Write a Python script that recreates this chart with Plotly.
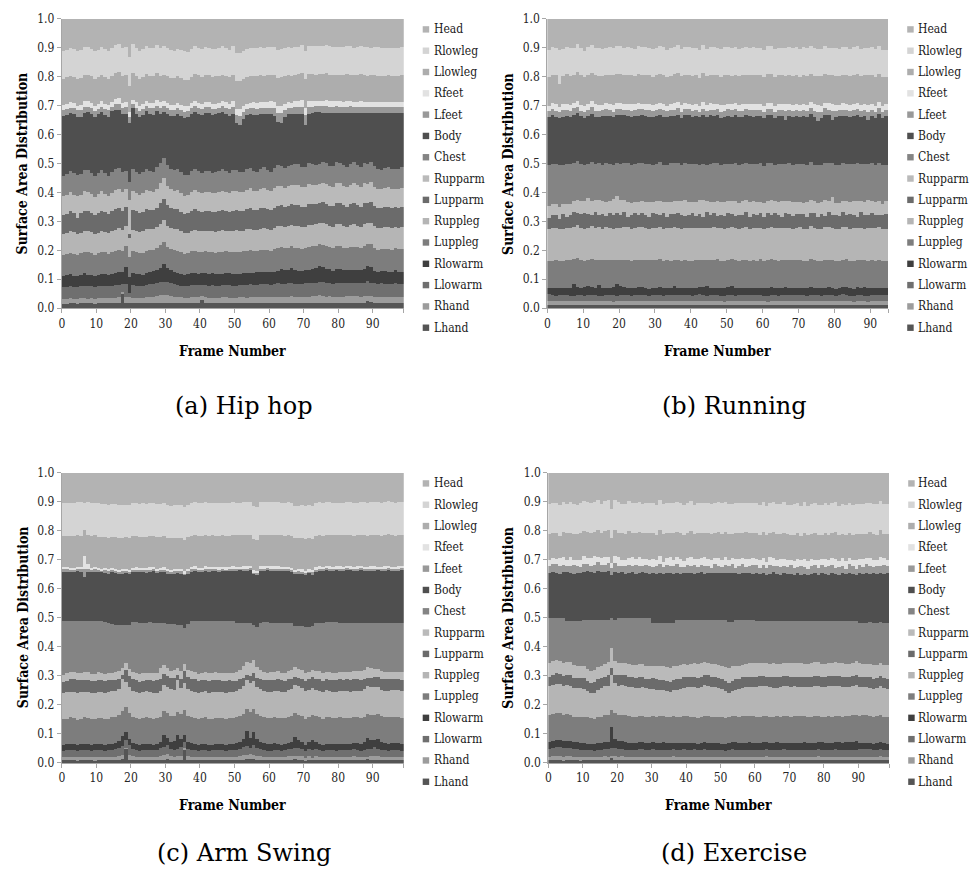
import plotly.graph_objects as go

# ---------------- data (shares in per-mille of total surface area) ----------------
PARTS = ["Lhand", "Rhand", "Llowarm", "Rlowarm", "Luppleg", "Ruppleg", "Lupparm",
         "Rupparm", "Chest", "Body", "Lfeet", "Rfeet", "Llowleg", "Rlowleg", "Head"]
LEGEND_ORDER = ["Head", "Rlowleg", "Llowleg", "Rfeet", "Lfeet", "Body", "Chest", "Rupparm",
                "Lupparm", "Ruppleg", "Luppleg", "Rlowarm", "Llowarm", "Rhand", "Lhand"]
X_TICKS = [0, 10, 20, 30, 40, 50, 60, 70, 80, 90]
Y_TICKS = [0.0, 0.1, 0.2, 0.3, 0.4, 0.5, 0.6, 0.7, 0.8, 0.9, 1.0]
CAPTIONS = ["(a) Hip hop", "(b) Running", "(c) Arm Swing", "(d) Exercise"]

HIPHOP_FRAMES = list(range(99))
RUNNING_FRAMES = list(range(95))
ARMSWING_FRAMES = list(range(99))
EXERCISE_FRAMES = list(range(99))

HIPHOP_LHAND = [16,16,17,17,16,17,18,17,17,16, 17,18,17,17,18,17,18,48,19,18, 17,18,17,18,18,19,18,19,20,19,
                19,18,18,19,18,17,18,19,19,18, 28,19,18,18,17,18,18,19,18,17, 18,19,18,17,18,18,17,18,19,18,
                17,18,18,19,18,19,18,17,18,19, 19,18,19,18,20,19,18,19,18,18, 19,18,18,19,20,19,18,19,26,21,
                19,18,18,19,18,18,19,18,18]
HIPHOP_RHAND = [17,18,18,17,18,19,18,17,18,18, 18,19,18,18,19,19,20,10,21,20, 19,18,19,19,20,21,22,24,26,27,
                26,24,22,21,20,19,19,20,19,20, 14,20,19,19,18,19,20,19,18,19, 19,20,20,19,20,21,22,21,20,20,
                21,20,22,21,23,22,24,22,21,22, 21,22,23,24,25,24,23,24,22,23, 22,23,24,23,22,23,22,23,18,22,
                22,21,22,21,22,21,22,21,22]
HIPHOP_LLOWARM = [40,41,42,40,39,41,43,42,41,40, 41,42,43,41,42,44,43,25,45,15, 44,43,42,41,43,44,45,43,44,46,
                  45,44,43,42,41,40,41,42,43,42, 40,42,41,43,42,41,42,43,44,43, 42,41,43,44,45,43,42,44,45,46,
                  44,45,46,44,43,45,47,46,45,44, 46,47,45,44,46,48,47,46,45,47, 48,46,45,47,46,45,46,47,50,46,
                  45,44,46,45,44,45,46,45,44]
HIPHOP_RLOWARM = [38,40,41,39,38,40,42,41,39,38, 39,41,42,40,41,43,44,42,58,55, 42,41,40,39,41,42,43,45,50,62,
                  48,45,43,41,40,39,40,41,42,40, 39,41,40,42,41,40,39,41,42,41, 40,39,41,42,40,41,43,42,40,41,
                  42,44,43,52,48,45,50,47,44,43, 45,47,50,54,56,52,48,46,45,47, 48,46,45,44,46,47,45,48,52,55,
                  44,43,42,44,43,42,44,43,42]
HIPHOP_LUPPLEG = [74,73,75,76,74,73,75,77,76,74, 75,76,74,73,75,76,78,74,72,70, 76,75,74,76,77,75,74,76,78,75,
                  74,75,76,77,75,74,73,75,76,75, 74,75,76,74,75,76,77,75,74,76, 77,76,75,77,78,76,75,77,78,76,
                  75,77,78,76,75,77,76,78,79,77, 76,78,77,76,75,77,78,76,77,79, 78,77,76,78,79,77,76,78,75,77,
                  78,77,76,77,78,77,76,77,78]
HIPHOP_RUPPLEG = [72,71,73,74,72,70,72,74,73,71, 72,73,71,70,72,73,74,71,69,65, 73,72,71,73,74,72,71,73,75,78,
                  74,72,73,74,72,71,70,72,73,72, 71,72,73,71,72,73,74,72,71,73, 74,73,72,74,75,73,72,74,75,73,
                  72,74,76,74,73,75,74,76,77,75, 74,76,75,74,73,75,76,74,75,77, 76,75,74,76,77,75,74,76,73,75,
                  76,75,74,75,76,75,74,75,76]
HIPHOP_LUPPARM = [66,68,70,67,55,68,70,69,67,66, 68,69,67,66,68,70,69,68,67,15, 70,68,66,68,69,67,66,68,70,72,
                  70,68,67,69,68,66,67,68,70,69, 67,68,69,67,68,69,70,68,67,69, 70,69,68,70,71,69,68,70,71,69,
                  68,70,72,70,69,71,70,72,73,71, 70,72,71,70,69,71,72,70,71,73, 72,71,70,72,73,71,70,72,69,71,
                  70,69,68,69,70,69,68,69,70]
HIPHOP_RUPPARM = [64,66,65,63,76,65,67,66,64,63, 65,66,64,63,65,67,66,64,63,118, 66,65,63,65,66,64,63,66,70,72,
                  68,66,64,65,64,63,64,65,67,66, 64,65,66,64,65,66,67,65,64,66, 67,66,65,67,68,66,65,67,68,66,
                  65,67,69,67,66,68,67,69,70,68, 67,69,68,67,66,68,69,67,68,70, 69,68,67,69,70,68,67,69,66,68,
                  67,66,65,66,67,66,65,66,67]
HIPHOP_CHEST = [72,71,73,74,72,70,72,74,73,71, 72,73,71,70,72,73,74,71,62,60, 73,72,71,73,74,72,71,73,70,68,
                72,71,73,74,72,71,70,72,73,72, 71,72,73,71,72,73,74,72,71,73, 70,69,68,70,71,69,68,70,71,69,
                68,70,72,70,69,71,70,72,73,71, 70,72,71,70,69,71,72,70,71,73, 72,71,70,72,73,71,70,72,69,71,
                70,69,68,69,70,69,68,69,70]
HIPHOP_BODY = [205,203,200,204,202,200,199,201,203,205, 203,200,202,204,210,203,200,198,195,205,
               212,200,198,196,199,197,196,194,170,160, 176,182,186,190,194,198,200,199,197,197,
               200,201,199,200,201,199,197,198,196,194, 163,163,185,188,184,193,196,187,184,194,
               198,180,149,147,176,177,174,173,170,180, 147,172,176,180,178,170,173,183,184,168,
               171,180,186,175,169,179,187,171,177,169, 184,193,196,190,187,193,193,192,188]
HIPHOP_LFEET = [20,21,19,20,22,21,20,19,21,20, 19,20,21,22,14,20,21,22,24,20, 15,22,21,20,19,21,22,20,21,22,
                21,20,19,20,21,22,20,19,20,21, 20,21,22,20,19,20,21,22,23,24, 28,30,24,22,21,23,22,24,23,22,
                24,26,30,35,26,23,22,24,25,26, 32,24,22,21,22,23,24,22,21,23, 22,21,22,23,22,21,22,21,22,21,
                20,21,20,21,20,21,20,21,20]
HIPHOP_RFEET = [18,17,19,18,17,18,19,18,17,18, 19,18,17,18,16,18,19,17,18,19, 14,18,19,20,18,17,18,19,18,17,
                18,19,18,17,18,19,18,17,18,19, 18,17,18,19,18,17,18,19,18,20, 22,24,20,18,19,20,21,19,18,20,
                21,22,24,26,22,20,19,21,22,23, 26,20,19,18,19,20,19,18,19,18, 19,18,19,18,17,18,19,18,17,18,
                18,17,18,17,18,17,18,17,18]
HIPHOP_LLOWLEG = [92,93,91,90,92,93,91,92,93,91, 90,92,93,91,92,90,91,93,92,90, 94,92,91,90,92,93,94,92,91,90,
                  91,92,93,94,92,91,90,92,93,94, 93,92,91,93,94,92,91,90,92,93, 96,98,94,93,92,91,93,94,92,91,
                  93,92,96,98,94,93,92,91,92,93, 98,94,93,92,91,92,93,92,91,90, 91,92,93,92,91,92,93,91,90,91,
                  92,91,90,91,92,91,90,91,92]
HIPHOP_RLOWLEG = [95,96,97,96,95,97,98,96,95,97, 96,95,97,98,96,97,95,96,97,98, 97,96,98,97,95,96,97,98,96,97,
                  98,97,96,95,97,98,96,97,95,96, 97,98,96,97,95,96,97,98,96,97, 98,97,96,97,98,96,97,95,96,97,
                  96,97,98,96,97,98,97,96,95,97, 98,97,96,97,98,96,97,98,97,96, 97,96,97,98,96,97,96,97,98,96,
                  97,98,96,97,96,97,98,96,97]

RUNNING_LHAND = [12,12,13,12,11,12,13,12,12,11, 12,13,12,11,12,12,13,12,11,12, 13,12,12,11,12,13,12,12,11,12,
                 12,13,12,12,11,12,13,12,12,11, 12,12,13,12,11,12,12,13,12,11, 12,13,12,12,11,12,13,12,11,12,
                 12,11,12,13,12,12,11,12,13,12, 11,12,12,13,12,11,12,13,12,12, 11,12,13,12,12,11,12,13,12,11,
                 12,12,13,12,11]
RUNNING_RHAND = [14,13,12,13,14,13,12,13,14,13, 12,13,14,13,12,13,14,13,12,14, 13,12,13,14,13,12,13,14,13,12,
                 13,14,13,12,13,14,13,12,13,14, 13,12,13,14,13,12,13,14,13,12, 13,14,13,12,13,14,13,12,13,14,
                 13,12,13,14,13,12,13,14,13,12, 13,14,13,12,13,14,13,12,13,14, 13,12,13,14,13,12,13,14,13,12,
                 13,14,13,12,13]
RUNNING_LLOWARM = [22,20,19,21,22,20,18,19,21,22, 20,19,21,22,20,18,19,21,22,16, 20,22,21,19,20,22,21,19,20,21,
                   22,20,19,21,22,20,19,21,22,20, 19,21,22,20,19,21,22,20,19,21, 22,20,19,21,22,20,19,21,22,20,
                   19,21,22,20,19,21,22,20,19,21, 22,20,19,21,22,20,19,21,22,20, 19,21,22,20,19,21,22,20,19,21,
                   22,20,19,21,22]
RUNNING_RLOWARM = [24,25,26,24,23,25,27,40,28,25, 30,34,26,25,38,27,24,26,30,42, 32,28,26,25,24,26,27,25,24,26,
                   25,27,26,24,25,32,26,25,24,26, 25,24,26,27,33,26,25,24,26,25, 27,32,26,25,24,26,27,25,24,26,
                   25,27,26,24,25,26,27,25,24,26, 25,24,26,27,25,24,26,25,27,26, 24,25,26,27,25,24,26,25,30,27,
                   25,24,26,25,24]
RUNNING_LUPPLEG = [93,95,97,94,92,96,98,85,99,96, 90,88,97,95,85,96,98,94,92,82, 90,94,96,95,97,94,93,96,98,95,
                   94,96,95,97,93,90,96,95,97,94, 95,97,94,93,90,95,96,98,94,95, 93,90,96,95,97,94,93,96,95,97,
                   94,95,97,96,94,95,93,96,97,95, 96,94,95,97,96,93,95,96,94,95, 97,95,94,96,95,97,94,95,92,94,
                   96,95,97,94,95]
RUNNING_RUPPLEG = [111,113,110,112,114,111,109,112,113,111, 110,112,114,111,113,110,112,111,109,113,
                   111,113,112,110,111,113,114,112,110,111, 113,112,110,111,113,114,112,111,110,112,
                   114,111,110,112,113,111,112,110,113,111, 112,111,113,110,112,114,111,113,112,110,
                   111,113,112,110,114,111,113,112,110,111, 113,112,111,113,110,112,111,113,114,111,
                   112,110,113,111,112,114,111,112,110,113, 111,112,113,111,110]
RUNNING_LUPPARM = [37,43,47,33,50,39,45,53,41,48, 55,47,40,57,43,51,39,53,45,49, 43,51,37,47,53,41,49,45,39,51,
                   47,41,53,39,49,43,51,45,41,47, 51,43,47,39,53,45,49,41,47,43, 51,45,39,49,43,53,41,47,45,51,
                   43,49,41,53,45,39,51,47,43,49, 45,51,41,47,53,43,49,39,51,45, 47,43,51,41,49,45,39,53,47,43,
                   49,45,41,47,51]
RUNNING_RUPPARM = [40,38,35,42,36,45,40,38,48,44, 42,55,46,40,52,44,48,40,58,62, 52,42,50,44,38,48,42,46,52,40,
                   44,48,38,52,42,46,40,50,54,42, 38,46,50,56,40,44,38,52,44,48, 40,46,52,40,48,42,50,44,46,38,
                   48,42,52,40,44,56,42,46,50,40, 44,38,52,46,40,48,42,54,38,62, 40,46,38,50,44,48,54,40,46,52,
                   42,46,50,38,44]
RUNNING_CHEST = [142,140,139,146,135,137,136,130,132,129, 124,119,135,124,126,126,134,128,118,112,
                 126,128,134,130,130,132,130,130,133,127, 128,134,131,127,133,130,132,124,128,133,
                 131,134,122,127,125,133,135,129,128,132, 129,128,133,131,128,127,132,129,131,134,
                 128,131,129,126,133,128,127,130,126,133, 130,134,127,129,126,131,128,130,133,116,
                 132,133,131,128,129,127,130,126,129,127, 131,128,132,134,127]
RUNNING_BODY = [166,168,164,162,165,167,163,166,168,165, 163,166,168,164,162,167,165,168,163,166,
                168,165,163,167,166,164,168,166,163,165, 167,164,166,168,163,165,167,164,166,168,
                164,166,163,167,165,168,164,166,162,165, 167,164,166,168,163,165,167,164,166,163,
                165,167,164,162,166,165,152,164,167,165, 163,166,164,167,165,150,164,166,163,150,
                165,167,164,166,163,165,167,164,166,152, 165,163,166,164,167]
RUNNING_LFEET = [20,22,21,19,22,20,21,23,20,19, 21,20,22,21,19,20,22,21,20,22, 21,19,22,20,21,23,20,19,21,22,
                 20,21,22,19,20,21,23,20,22,21, 19,21,20,22,21,20,19,22,21,20, 22,21,19,20,22,21,20,23,21,20,
                 21,22,20,19,21,22,30,21,20,22, 21,20,22,21,20,32,21,22,20,30, 21,20,22,21,20,22,21,20,22,28,
                 21,20,22,21,20]
RUNNING_RFEET = [18,20,22,19,21,23,20,18,22,21, 19,22,20,23,21,19,22,20,24,21, 22,19,21,24,20,22,19,23,21,20,
                 22,20,23,19,21,22,20,24,21,19, 22,21,19,23,20,22,21,19,23,21, 20,22,21,19,23,20,22,21,19,22,
                 21,19,22,23,20,21,24,20,22,21, 19,22,21,20,23,24,21,19,22,25, 21,20,22,19,23,21,20,22,21,24,
                 20,22,21,19,22]
RUNNING_LLOWLEG = [100,98,101,78,99,101,100,98,99,101, 100,99,97,100,101,99,98,100,102,99,
                   98,100,101,99,98,100,99,101,100,98, 99,101,100,98,99,100,102,99,98,100,
                   101,99,98,100,101,99,100,98,99,101, 100,98,99,101,100,99,98,100,101,99,
                   98,100,101,99,100,98,99,101,100,98, 99,101,100,98,99,100,101,99,98,100,
                   101,99,98,100,99,101,100,98,99,101, 100,99,98,101,95]
RUNNING_RLOWLEG = [94,96,95,117,93,95,97,94,96,95, 93,95,97,94,96,95,93,96,94,95, 97,94,95,96,93,95,97,94,96,95,
                   94,96,95,93,97,94,95,96,94,95, 96,94,95,97,93,95,96,94,95,97, 94,95,96,93,95,97,94,96,95,94,
                   95,97,94,96,95,93,96,94,95,97, 94,95,96,94,97,95,93,96,94,95, 96,94,95,97,94,95,96,93,95,94,
                   95,96,94,95,92]

ARMSWING_LHAND = [10,10,11,10,9,10,11,10,10,9, 10,11,10,10,11,10,12,14,50,12, 11,10,10,11,10,10,11,10,12,13,
                  14,12,11,12,13,48,12,11,10,10, 11,10,10,11,10,11,10,10,11,10, 11,12,13,14,15,14,13,12,11,10,
                  10,11,10,11,10,11,12,18,13,12, 11,12,14,12,11,10,11,10,11,10, 10,11,10,11,12,11,10,11,16,12,
                  12,11,10,11,10,11,10,11,10]
ARMSWING_RHAND = [12,12,11,12,13,12,11,12,12,13, 12,11,12,13,12,12,14,16,4,16, 13,12,12,11,12,13,12,12,14,16,
                  18,14,12,13,14,6,13,12,12,11, 12,12,11,12,13,12,12,11,12,12, 12,13,15,16,18,16,14,13,12,12,
                  11,12,12,11,12,13,14,6,14,13, 6,12,6,13,12,11,12,12,11,12, 12,11,12,12,13,12,11,12,6,13,
                  14,13,12,11,12,12,11,12,12]
ARMSWING_LLOWARM = [22,23,24,23,22,23,24,23,22,23, 24,23,22,23,24,26,28,30,25,34, 24,23,22,23,24,23,22,24,26,28,
                    30,25,24,26,28,20,25,24,23,22, 23,24,23,22,23,24,23,22,23,24, 24,26,28,30,20,32,26,24,23,22,
                    23,24,23,22,23,24,25,30,26,24, 25,24,26,24,23,22,23,24,23,22, 23,24,23,22,24,23,22,24,28,26,
                    30,26,24,23,22,23,24,23,22]
ARMSWING_RLOWARM = [19,20,21,20,19,20,21,20,19,20, 21,20,19,20,21,22,24,34,30,22, 21,20,19,20,21,20,19,21,22,40,
                    26,24,30,45,28,22,24,22,21,20, 20,21,20,19,20,21,20,19,20,21, 22,24,28,50,36,45,30,26,24,22,
                    21,22,21,20,21,22,24,38,28,24, 22,24,36,23,22,21,22,21,22,21, 22,21,22,21,22,23,24,26,36,28,
                    26,34,28,25,24,23,24,23,22]
ARMSWING_LUPPLEG = [90,89,91,90,88,89,91,92,90,89, 90,91,89,88,90,89,88,86,84,88, 90,91,89,90,91,89,90,88,86,82,
                    86,88,86,80,88,89,90,91,90,89, 90,91,89,90,91,89,90,91,89,90, 89,88,86,78,88,80,86,88,89,90,
                    91,89,90,91,89,90,88,82,87,89, 90,89,85,90,91,89,90,91,89,90, 91,89,90,89,88,89,90,88,84,87,
                    86,85,88,89,90,89,90,91,90]
ARMSWING_RUPPLEG = [90,91,89,90,92,91,89,90,91,90, 89,90,91,92,90,91,89,110,88,90, 91,90,89,90,91,92,90,89,90,91,
                    90,92,91,112,90,91,92,90,91,90, 89,90,91,92,90,89,90,91,92,90, 91,92,95,98,100,96,94,92,91,90,
                    91,90,92,91,90,92,93,95,100,98, 96,92,91,90,91,92,93,92,91,90, 91,92,93,92,91,92,93,94,95,96,
                    94,93,92,91,92,93,92,91,92]
ARMSWING_LUPPARM = [38,40,42,44,43,41,40,39,40,41, 42,40,39,41,40,38,36,15,40,38, 40,41,40,39,38,40,41,42,40,38,
                    36,38,40,15,30,42,40,41,42,40, 41,40,39,40,41,40,39,41,40,38, 36,34,30,20,25,28,32,36,38,40,
                    41,40,42,41,40,39,36,30,25,30, 34,36,38,40,41,40,39,38,40,41, 40,39,40,41,40,39,38,36,30,32,
                    34,36,38,39,40,39,38,39,40]
ARMSWING_RUPPARM = [24,26,27,25,24,26,28,27,25,24, 25,26,27,25,24,26,28,24,26,25, 24,25,26,27,25,24,26,25,38,30,
                    28,26,27,24,26,25,24,28,27,26, 25,26,27,26,25,24,26,27,25,26, 28,34,40,42,45,44,38,32,28,26,
                    25,26,27,25,26,28,30,34,32,30, 28,27,26,25,26,27,26,25,24,26, 27,26,25,26,27,28,30,32,36,34,
                    30,28,27,26,25,26,27,26,25]
ARMSWING_CHEST = [184,179,175,176,180,178,176,177,181,181, 177,177,178,172,168,164,158,148,130,152,
                  172,174,178,174,173,175,174,174,157,147, 152,160,158,150,160,122,160,171,175,182,
                  178,176,180,178,177,180,180,178,178,179, 172,162,150,137,138,120,137,160,170,174,
                  172,170,168,172,172,165,160,140,147,152, 158,154,150,165,168,173,170,173,175,174,
                  169,172,170,171,168,168,167,162,154,157, 159,159,166,170,170,169,169,169,172]
ARMSWING_BODY = [173,172,171,172,172,172,150,172,172,172, 170,171,172,171,178,180,178,178,180,178,
                 175,174,175,176,174,175,176,174,175,176, 175,176,176,178,178,185,175,172,173,172,
                 173,174,172,174,173,172,174,173,172,174, 179,181,180,179,181,178,180,181,179,180,
                 180,181,180,181,180,179,180,182,183,183, 180,185,180,180,180,179,180,179,178,180,
                 180,179,181,180,179,180,181,180,178,180, 180,181,179,180,181,180,179,180,181]
ARMSWING_LFEET = [6,6,5,6,7,6,30,6,5,6, 6,5,6,6,7,6,5,6,6,5, 6,7,6,5,6,6,7,6,5,6, 6,5,6,7,6,5,6,6,7,6,
                  5,6,6,7,6,5,6,6,7,6, 6,5,6,7,6,6,5,6,6,7, 6,5,6,6,7,6,5,6,6,5, 6,7,6,5,6,6,7,6,5,6,
                  6,5,6,7,6,5,6,6,7,6, 6,5,6,6,7,6,5,6,6]
ARMSWING_RFEET = [7,8,7,6,7,8,42,18,7,8, 7,6,7,8,7,6,7,8,7,6, 7,8,7,6,7,8,7,6,7,8, 7,6,7,8,7,6,7,8,7,6,
                  7,8,7,6,7,8,7,6,7,8, 7,6,7,8,7,6,7,8,7,6, 7,8,7,6,7,8,7,6,7,8, 7,6,7,8,7,6,7,8,7,6,
                  7,8,7,6,7,8,7,6,7,8, 7,6,7,8,7,6,7,8,7]
ARMSWING_LLOWLEG = [107,108,109,110,109,108,91,100,108,109, 108,107,109,108,107,109,108,107,108,109,
                    108,107,106,107,108,109,108,107,106,107, 108,109,108,107,108,109,110,107,108,109,
                    108,107,108,109,108,107,108,109,108,107, 108,109,108,107,108,109,108,107,108,109,
                    108,107,109,108,107,108,109,108,107,108, 109,108,107,108,109,108,107,108,109,108,
                    107,108,109,108,107,108,109,108,107,108, 109,108,107,108,109,108,107,108,109]
ARMSWING_RLOWLEG = [115,114,113,112,114,115,91,113,114,113, 114,115,113,114,115,113,114,115,113,114,
                    113,114,115,116,114,113,114,115,116,114, 113,112,113,114,115,113,112,114,113,112,
                    113,114,113,112,113,114,113,112,113,114, 113,112,113,114,113,112,113,114,113,112,
                    113,114,113,112,113,114,113,112,113,114, 113,114,115,114,113,112,113,114,113,112,
                    113,112,113,114,113,112,113,114,113,112, 113,114,113,112,113,114,113,112,113]

EXERCISE_LHAND = [10,10,11,10,9,10,11,10,10,9, 10,11,10,10,11,10,11,10,18,11, 10,11,10,10,11,10,10,11,10,10,
                  11,10,10,11,10,10,11,10,10,11, 10,10,11,10,10,11,10,10,11,10, 10,11,10,10,11,10,10,11,10,10,
                  11,10,10,11,10,10,11,10,10,11, 10,10,11,10,10,11,10,10,11,10, 10,11,10,10,11,10,10,11,10,10,
                  11,10,10,11,10,10,11,10,10]
EXERCISE_RHAND = [13,14,15,14,13,14,13,12,13,12, 12,11,12,11,12,12,13,12,8,13, 12,13,12,11,12,12,13,12,11,12,
                  12,13,12,11,12,12,13,12,11,12, 12,13,12,11,12,12,13,12,11,12, 12,11,12,13,12,11,12,12,13,12,
                  11,12,12,13,12,11,12,12,13,12, 11,12,12,13,12,11,12,12,13,12, 11,12,12,13,12,11,12,12,13,12,
                  11,12,13,12,11,12,13,12,11]
EXERCISE_LLOWARM = [28,29,30,31,30,29,28,27,27,26, 25,24,23,23,24,25,26,27,28,28, 27,26,25,25,24,24,25,25,24,24,
                    25,24,24,25,24,24,25,24,24,25, 24,24,25,24,24,25,24,24,25,24, 23,22,24,25,24,24,25,24,24,25,
                    24,24,25,24,24,25,24,24,25,24, 24,25,24,24,25,24,24,25,24,24, 25,24,24,25,24,24,25,24,24,25,
                    26,27,26,25,24,24,25,24,24]
EXERCISE_RLOWARM = [24,25,26,27,26,25,24,23,22,23, 22,21,20,21,22,23,24,26,70,32, 28,27,26,25,24,23,24,25,24,23,
                    24,23,24,25,24,23,22,23,24,23, 24,23,22,23,24,25,24,23,24,23, 22,21,24,26,25,24,23,24,25,24,
                    23,24,25,24,23,24,25,24,23,24, 25,24,23,24,25,24,23,24,25,26, 25,24,23,24,25,26,27,26,28,30,
                    22,21,22,23,22,23,24,23,22]
EXERCISE_LUPPLEG = [90,91,92,91,90,91,89,88,89,90, 92,91,90,89,90,91,92,93,60,88, 90,91,92,91,90,89,90,91,92,91,
                    90,91,92,91,90,91,92,91,90,91, 92,91,90,89,90,91,92,91,90,91, 92,91,89,88,90,91,92,91,90,91,
                    92,91,90,91,92,91,90,91,92,91, 90,91,92,91,90,91,92,91,90,89, 90,91,92,91,90,89,88,89,90,91,
                    94,95,94,93,92,93,92,91,92]
EXERCISE_RUPPLEG = [100,101,100,99,100,101,102,100,99,98, 96,92,88,90,94,97,99,100,120,104,
                    101,102,103,102,101,100,99,98,97,96, 95,93,92,90,88,86,90,94,97,99,
                    100,101,102,103,104,105,104,103,102,100, 96,92,84,86,92,96,99,100,101,102,
                    103,104,103,102,101,100,99,101,102,103, 104,103,102,101,100,101,102,103,104,103,
                    102,103,104,105,104,103,102,101,100,101, 100,99,98,97,98,99,100,99,98]
EXERCISE_LUPPARM = [34,35,36,35,34,35,36,35,34,35, 36,35,34,35,36,35,34,36,25,30, 35,34,36,35,34,35,36,35,34,35,
                    36,35,34,35,36,35,34,35,36,35, 34,35,36,35,34,35,36,35,34,35, 36,35,34,36,35,34,35,36,35,34,
                    35,36,35,34,35,36,35,34,35,36, 35,34,35,36,35,34,35,36,35,34, 35,36,35,34,35,36,35,34,35,36,
                    35,34,35,36,35,34,35,36,35]
EXERCISE_RUPPARM = [48,47,46,45,44,45,46,44,43,42, 42,41,40,41,42,43,44,45,70,48, 44,43,42,43,44,45,46,45,44,43,
                    44,45,46,47,48,49,48,47,46,45, 44,45,46,47,46,45,44,43,44,45, 46,48,52,50,46,45,44,45,46,47,
                    46,45,44,45,46,47,46,45,44,45, 46,47,46,45,44,45,46,47,46,45, 44,45,46,47,46,45,44,45,46,47,
                    46,45,44,45,46,45,44,45,46]
EXERCISE_CHEST = [153,148,144,148,154,140,141,151,153,155, 160,169,178,175,164,159,152,146,100,141,
                  153,153,154,158,160,162,157,158,164,166, 148,151,151,150,153,155,150,159,157,154,
                  155,153,151,153,151,146,148,154,154,155, 158,162,158,152,158,160,155,152,151,150,
                  147,146,148,148,149,148,150,151,148,146, 145,144,145,146,149,149,146,142,142,147,
                  148,144,144,141,143,146,147,148,144,138, 140,142,143,144,147,145,142,145,147]
EXERCISE_BODY = [157,160,155,153,158,168,165,162,166,164, 163,166,165,162,167,165,163,166,150,164,
                 155,158,153,156,159,152,157,158,155,153, 170,168,172,166,170,172,168,160,158,162,
                 160,162,158,160,163,157,161,159,162,160, 160,163,167,170,161,158,162,159,161,157,
                 165,160,162,158,161,166,160,157,163,161, 162,158,165,160,163,158,161,166,160,164,
                 163,160,166,162,158,164,161,167,162,158, 170,168,172,166,170,167,171,168,170]
EXERCISE_LFEET = [22,25,30,28,24,20,26,30,25,22, 28,24,20,26,30,22,26,28,24,30, 24,20,28,26,22,30,24,20,28,25,
                  22,26,30,24,28,22,26,30,24,20, 28,24,30,22,26,28,24,20,30,26, 22,28,24,30,20,26,28,22,24,30,
                  26,22,28,24,30,20,26,28,24,22, 30,26,22,28,24,20,30,26,22,28, 24,30,26,22,28,24,20,30,26,22,
                  28,24,30,26,22,28,24,30,26]
EXERCISE_RFEET = [20,22,18,25,28,22,30,18,20,24, 28,22,26,30,20,24,28,22,18,26, 30,24,20,26,28,22,30,26,20,24,
                  28,22,26,20,24,30,22,26,28,20, 24,28,20,26,22,30,24,28,20,26, 22,28,24,20,30,26,22,28,24,26,
                  22,28,24,20,26,30,22,28,24,26, 20,24,28,22,26,30,24,20,28,22, 26,20,24,30,22,28,26,20,24,30,
                  22,26,20,28,24,22,30,24,20]
EXERCISE_LLOWLEG = [92,88,90,78,86,92,84,90,88,92, 85,90,88,84,90,86,88,92,84,88, 86,90,88,92,84,90,86,88,90,92,
                    88,86,90,96,88,84,92,86,88,90, 88,90,86,92,88,84,90,88,86,90, 92,86,88,84,90,88,86,92,88,86,
                    88,86,90,92,84,88,90,86,92,88, 86,90,88,84,92,88,86,90,88,84, 90,88,86,92,88,84,90,88,86,90,
                    86,88,84,90,88,86,92,84,88]
EXERCISE_RLOWLEG = [103,102,104,105,103,102,104,103,102,104, 103,104,102,103,104,102,103,104,102,103,
                    104,102,103,104,102,103,104,102,103,104, 102,103,104,102,103,104,102,103,104,102,
                    103,104,102,103,104,102,103,104,102,103, 104,102,103,104,102,103,104,102,103,104,
                    102,103,104,102,103,104,102,103,104,102, 103,104,102,103,104,102,103,104,102,103,
                    104,102,103,104,102,103,104,102,103,104, 102,103,104,102,103,104,102,103,104]


def with_head(frames, lower):
    """Shares add up to one per frame; the head takes the remaining share."""
    for name, vals in lower.items():
        assert len(vals) == len(frames), (name, len(vals), len(frames))
    head = [1000 - sum(col) for col in zip(*lower.values())]
    out = dict(lower)
    out["Head"] = head
    return out


def panel(frames, p):
    return frames, with_head(frames, {
        "Lhand": p["LHAND"], "Rhand": p["RHAND"], "Llowarm": p["LLOWARM"], "Rlowarm": p["RLOWARM"],
        "Luppleg": p["LUPPLEG"], "Ruppleg": p["RUPPLEG"], "Lupparm": p["LUPPARM"], "Rupparm": p["RUPPARM"],
        "Chest": p["CHEST"], "Body": p["BODY"], "Lfeet": p["LFEET"], "Rfeet": p["RFEET"],
        "Llowleg": p["LLOWLEG"], "Rlowleg": p["RLOWLEG"]})


def grab(prefix):
    g = globals()
    return {k[len(prefix) + 1:]: v for k, v in g.items() if k.startswith(prefix + "_") and k != prefix + "_FRAMES"}


PANEL_DATA = [panel(HIPHOP_FRAMES, grab("HIPHOP")), panel(RUNNING_FRAMES, grab("RUNNING")),
              panel(ARMSWING_FRAMES, grab("ARMSWING")), panel(EXERCISE_FRAMES, grab("EXERCISE"))]

# ---------------- styles ----------------
COLORS = {"Head": "#b3b3b3", "Rlowleg": "#d4d4d4", "Llowleg": "#adadad", "Rfeet": "#e2e2e2",
          "Lfeet": "#999999", "Body": "#4f4f4f", "Chest": "#848484", "Rupparm": "#bababa",
          "Lupparm": "#6b6b6b", "Ruppleg": "#b5b5b5", "Luppleg": "#7d7d7d", "Rlowarm": "#3f3f3f",
          "Llowarm": "#6f6f6f", "Rhand": "#9c9c9c", "Lhand": "#555555"}

W, H = 974, 889
F_SMALL = "DejaVu Serif Condensed"
F_CAP = "DejaVu Serif"

PANELS = [
    dict(l=59, r=402, t=12, b=306, sq=421, tx=430, ly=22.7, cap=(242, 405), xt=(230.5, 350), yt=(20, 159)),
    dict(l=546, r=888, t=12, b=306, sq=907, tx=916, ly=22.7, cap=(734, 405), xt=(717, 350), yt=(507, 159)),
    dict(l=59, r=402, t=473, b=768, sq=421, tx=430, ly=484, cap=(242, 860), xt=(230.5, 811), yt=(20, 620)),
    dict(l=547, r=889, t=473, b=768, sq=908, tx=916, ly=484, cap=(733, 860), xt=(718, 811), yt=(507, 620)),
]
LEG_STEP = 21.65


def fx(px):
    return px / W


def fy(py):
    return 1 - py / H


fig = go.Figure()
layout = dict(width=W, height=H, margin=dict(l=0, r=0, t=0, b=0), paper_bgcolor="white",
              plot_bgcolor="white", barmode="stack", bargap=0, showlegend=False,
              font=dict(family=F_SMALL))
annotations = []
shapes = []

for k, ((frames, series), P) in enumerate(zip(PANEL_DATA, PANELS)):
    sfx = "" if k == 0 else str(k + 1)
    for name in PARTS:
        fig.add_trace(go.Bar(
            x=frames, y=[v / 1000 for v in series[name]], name=name,
            offset=0, width=1, marker=dict(color=COLORS[name], line=dict(width=0)),
            xaxis="x" + sfx, yaxis="y" + sfx, showlegend=False,
            hovertemplate=name + " frame %{x}: %{y:.3f}<extra></extra>"))
    n = len(frames)
    axis_common = dict(showgrid=False, zeroline=False, showline=True, linecolor="#a6a6a6", linewidth=1,
                       ticks="outside", ticklen=4, tickcolor="#a6a6a6",
                       tickfont=dict(family=F_SMALL, size=12, color="#262626"))
    layout["xaxis" + sfx] = dict(domain=[fx(P["l"]), fx(P["r"])], anchor="y" + sfx, range=[0, n],
                                 tickmode="array", tickvals=X_TICKS + [n],
                                 ticktext=[str(v) for v in X_TICKS] + [""], **axis_common)
    layout["yaxis" + sfx] = dict(domain=[fy(P["b"]), fy(P["t"])], anchor="x" + sfx, range=[0, 1],
                                 tickmode="array", tickvals=Y_TICKS, tickformat=".1f", **axis_common)
    annotations.append(dict(text="<b>Frame Number</b>", x=fx(P["xt"][0]), y=fy(P["xt"][1]), xref="paper",
                            yref="paper", showarrow=False, xanchor="center", yanchor="middle",
                            font=dict(family=F_SMALL, size=14, color="black")))
    annotations.append(dict(text="<b>Surface Area Distribution</b>", x=fx(P["yt"][0]), y=fy(P["yt"][1]),
                            xref="paper", yref="paper", showarrow=False, textangle=-90, xanchor="center",
                            yanchor="middle", font=dict(family=F_SMALL, size=14, color="black")))
    annotations.append(dict(text=CAPTIONS[k], x=fx(P["cap"][0]), y=fy(P["cap"][1]), xref="paper",
                            yref="paper", showarrow=False, xanchor="center", yanchor="middle",
                            font=dict(family=F_CAP, size=24, color="black")))
    for i, name in enumerate(LEGEND_ORDER):
        yc = P["ly"] + i * LEG_STEP
        shapes.append(dict(type="rect", xref="paper", yref="paper", x0=fx(P["sq"]), x1=fx(P["sq"] + 6.5),
                           y0=fy(yc + 3.3), y1=fy(yc - 3.2), fillcolor=COLORS[name], line=dict(width=0)))
        annotations.append(dict(text=name, x=fx(P["tx"]), y=fy(yc), xref="paper", yref="paper",
                                showarrow=False, xanchor="left", yanchor="middle",
                                font=dict(family=F_SMALL, size=12, color="#1a1a1a")))

layout["annotations"] = annotations
layout["shapes"] = shapes
fig.update_layout(**layout)
# place the 974x889 figure at the page origin (no default body margin / scrollbars), no mode bar
fig.write_html("out.html", config={"displayModeBar": False},
               post_script="document.body.style.margin='0px';document.body.style.overflow='hidden';")
